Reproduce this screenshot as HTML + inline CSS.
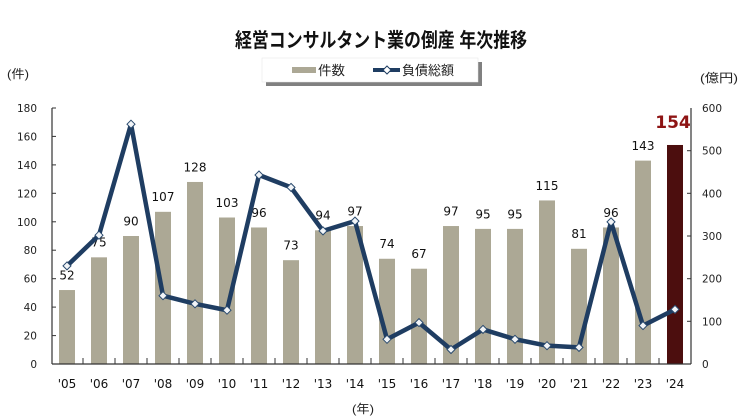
<!DOCTYPE html>
<html><head><meta charset="utf-8"><style>
html,body{margin:0;padding:0;background:#fff;}
svg{display:block;}
text{font-family:"DejaVu Sans","Liberation Sans","Noto Sans CJK JP",sans-serif;}
.jp{font-family:"Liberation Sans","Noto Sans CJK JP",sans-serif;}
</style></head><body>
<svg width="746" height="418" viewBox="0 0 746 418" xmlns="http://www.w3.org/2000/svg">
<rect width="746" height="418" fill="#fff"/>
<!-- title -->
<text class="jp" x="235" y="47" font-size="20" font-weight="bold" fill="#111" textLength="292" lengthAdjust="spacingAndGlyphs">経営コンサルタント業の倒産 年次推移</text>
<!-- legend -->
<rect x="266" y="62" width="216" height="24" fill="#555" opacity="0.75"/>
<rect x="262" y="58" width="216" height="24" fill="#fff" stroke="#e4e4e4" stroke-width="0.5"/>
<rect x="292" y="67" width="24" height="6" fill="#aca895"/>
<text class="jp" x="318" y="75" font-size="13" fill="#222" textLength="27" lengthAdjust="spacingAndGlyphs">件数</text>
<line x1="373" y1="70" x2="400" y2="70" stroke="#1f3d62" stroke-width="4"/>
<polygon points="387,66 391,70 387,74 383,70" fill="#fff" stroke="#1f3d62" stroke-width="1"/>
<text class="jp" x="402" y="75" font-size="13" fill="#222" textLength="52" lengthAdjust="spacingAndGlyphs">負債総額</text>
<!-- axis unit labels -->
<text class="jp" x="7" y="78" font-size="12" fill="#222" textLength="22" lengthAdjust="spacingAndGlyphs">(件)</text>
<text class="jp" x="700" y="82" font-size="12" fill="#222" textLength="38" lengthAdjust="spacingAndGlyphs">(億円)</text>
<text class="jp" x="352" y="413" font-size="12" fill="#222" textLength="22" lengthAdjust="spacingAndGlyphs">(年)</text>
<!-- left tick labels -->
<g font-size="10.5" fill="#222" text-anchor="end">
<text x="37" y="112">180</text>
<text x="37" y="140.4">160</text>
<text x="37" y="168.9">140</text>
<text x="37" y="197.3">120</text>
<text x="37" y="225.8">100</text>
<text x="37" y="254.2">80</text>
<text x="37" y="282.7">60</text>
<text x="37" y="311.1">40</text>
<text x="37" y="339.6">20</text>
<text x="37" y="368">0</text>
</g>
<!-- right tick labels -->
<g font-size="10.5" fill="#222" text-anchor="start">
<text x="702" y="112">600</text>
<text x="702" y="154.7">500</text>
<text x="702" y="197.3">400</text>
<text x="702" y="240">300</text>
<text x="702" y="282.7">200</text>
<text x="702" y="325.3">100</text>
<text x="702" y="368">0</text>
</g>
<!-- bars -->
<g fill="#aca895">
<rect x="59" y="290.04" width="16" height="73.96"/>
<rect x="91" y="257.33" width="16" height="106.67"/>
<rect x="123" y="236" width="16" height="128"/>
<rect x="155" y="211.82" width="16" height="152.18"/>
<rect x="187" y="181.96" width="16" height="182.04"/>
<rect x="219" y="217.51" width="16" height="146.49"/>
<rect x="251" y="227.47" width="16" height="136.53"/>
<rect x="283" y="260.18" width="16" height="103.82"/>
<rect x="315" y="230.31" width="16" height="133.69"/>
<rect x="347" y="226.04" width="16" height="137.96"/>
<rect x="379" y="258.76" width="16" height="105.24"/>
<rect x="411" y="268.71" width="16" height="95.29"/>
<rect x="443" y="226.04" width="16" height="137.96"/>
<rect x="475" y="228.89" width="16" height="135.11"/>
<rect x="507" y="228.89" width="16" height="135.11"/>
<rect x="539" y="200.44" width="16" height="163.56"/>
<rect x="571" y="248.8" width="16" height="115.2"/>
<rect x="603" y="227.47" width="16" height="136.53"/>
<rect x="635" y="160.62" width="16" height="203.38"/>
</g>
<rect x="667" y="144.98" width="16" height="219.02" fill="#4c0e0e"/>
<!-- axes -->
<g stroke="#333" stroke-width="1.2" fill="none">
<line x1="52" y1="108" x2="52" y2="364"/>
<line x1="691" y1="108" x2="691" y2="364"/>
<line x1="52" y1="364" x2="691" y2="364"/>
</g>
<g stroke="#333" stroke-width="1">
<line x1="52" y1="108" x2="56" y2="108"/><line x1="52" y1="136.4" x2="56" y2="136.4"/><line x1="52" y1="164.9" x2="56" y2="164.9"/><line x1="52" y1="193.3" x2="56" y2="193.3"/><line x1="52" y1="221.8" x2="56" y2="221.8"/><line x1="52" y1="250.2" x2="56" y2="250.2"/><line x1="52" y1="278.7" x2="56" y2="278.7"/><line x1="52" y1="307.1" x2="56" y2="307.1"/><line x1="52" y1="335.6" x2="56" y2="335.6"/>
<line x1="687" y1="150.7" x2="691" y2="150.7"/><line x1="687" y1="193.3" x2="691" y2="193.3"/><line x1="687" y1="236" x2="691" y2="236"/><line x1="687" y1="278.7" x2="691" y2="278.7"/><line x1="687" y1="321.3" x2="691" y2="321.3"/>
<line x1="83" y1="358" x2="83" y2="364"/><line x1="115" y1="358" x2="115" y2="364"/><line x1="147" y1="358" x2="147" y2="364"/><line x1="179" y1="358" x2="179" y2="364"/><line x1="211" y1="358" x2="211" y2="364"/><line x1="243" y1="358" x2="243" y2="364"/><line x1="275" y1="358" x2="275" y2="364"/><line x1="307" y1="358" x2="307" y2="364"/><line x1="339" y1="358" x2="339" y2="364"/><line x1="371" y1="358" x2="371" y2="364"/><line x1="403" y1="358" x2="403" y2="364"/><line x1="435" y1="358" x2="435" y2="364"/><line x1="467" y1="358" x2="467" y2="364"/><line x1="499" y1="358" x2="499" y2="364"/><line x1="531" y1="358" x2="531" y2="364"/><line x1="563" y1="358" x2="563" y2="364"/><line x1="595" y1="358" x2="595" y2="364"/><line x1="627" y1="358" x2="627" y2="364"/><line x1="659" y1="358" x2="659" y2="364"/>
</g>
<!-- bar labels -->
<g font-size="12" fill="#111" text-anchor="middle">
<text x="67" y="279.4">52</text>
<text x="99" y="246.7">75</text>
<text x="131" y="225.4">90</text>
<text x="163" y="201.2">107</text>
<text x="195" y="171.4">128</text>
<text x="227" y="206.9">103</text>
<text x="259" y="216.9">96</text>
<text x="291" y="249.6">73</text>
<text x="323" y="219.7">94</text>
<text x="355" y="215.4">97</text>
<text x="387" y="248.2">74</text>
<text x="419" y="258.1">67</text>
<text x="451" y="215.4">97</text>
<text x="483" y="218.3">95</text>
<text x="515" y="218.3">95</text>
<text x="547" y="189.8">115</text>
<text x="579" y="238.2">81</text>
<text x="611" y="216.9">96</text>
<text x="643" y="150">143</text>
</g>
<text x="673" y="128" font-size="17" font-weight="bold" fill="#8e1414" text-anchor="middle">154</text>
<!-- line -->
<polyline fill="none" stroke="#1f3d62" stroke-width="4.5" stroke-linejoin="round" points="67,265.87 99,235.15 131,124.21 163,295.73 195,303.84 227,310.24 259,174.99 291,187.36 323,230.88 355,221.07 387,339.25 419,322.61 451,349.49 483,329.44 515,339.25 547,345.65 579,347.36 611,221.92 643,325.6 675,309.39"/>
<g fill="#f2f5f8" stroke="#2a4a6e" stroke-width="1">
<polygon points="67,261.9 71,265.9 67,269.9 63,265.9"/>
<polygon points="99,231.2 103,235.2 99,239.2 95,235.2"/>
<polygon points="131,120.2 135,124.2 131,128.2 127,124.2"/>
<polygon points="163,291.7 167,295.7 163,299.7 159,295.7"/>
<polygon points="195,299.8 199,303.8 195,307.8 191,303.8"/>
<polygon points="227,306.2 231,310.2 227,314.2 223,310.2"/>
<polygon points="259,171 263,175 259,179 255,175"/>
<polygon points="291,183.4 295,187.4 291,191.4 287,187.4"/>
<polygon points="323,226.9 327,230.9 323,234.9 319,230.9"/>
<polygon points="355,217.1 359,221.1 355,225.1 351,221.1"/>
<polygon points="387,335.3 391,339.3 387,343.3 383,339.3"/>
<polygon points="419,318.6 423,322.6 419,326.6 415,322.6"/>
<polygon points="451,345.5 455,349.5 451,353.5 447,349.5"/>
<polygon points="483,325.4 487,329.4 483,333.4 479,329.4"/>
<polygon points="515,335.3 519,339.3 515,343.3 511,339.3"/>
<polygon points="547,341.7 551,345.7 547,349.7 543,345.7"/>
<polygon points="579,343.4 583,347.4 579,351.4 575,347.4"/>
<polygon points="611,217.9 615,221.9 611,225.9 607,221.9"/>
<polygon points="643,321.6 647,325.6 643,329.6 639,325.6"/>
<polygon points="675,305.4 679,309.4 675,313.4 671,309.4"/>
</g>
<!-- year labels -->
<g font-size="12" fill="#111" text-anchor="middle">
<text x="67" y="388">'05</text><text x="99" y="388">'06</text><text x="131" y="388">'07</text><text x="163" y="388">'08</text><text x="195" y="388">'09</text><text x="227" y="388">'10</text><text x="259" y="388">'11</text><text x="291" y="388">'12</text><text x="323" y="388">'13</text><text x="355" y="388">'14</text><text x="387" y="388">'15</text><text x="419" y="388">'16</text><text x="451" y="388">'17</text><text x="483" y="388">'18</text><text x="515" y="388">'19</text><text x="547" y="388">'20</text><text x="579" y="388">'21</text><text x="611" y="388">'22</text><text x="643" y="388">'23</text><text x="675" y="388">'24</text>
</g>
</svg>
</body></html>
